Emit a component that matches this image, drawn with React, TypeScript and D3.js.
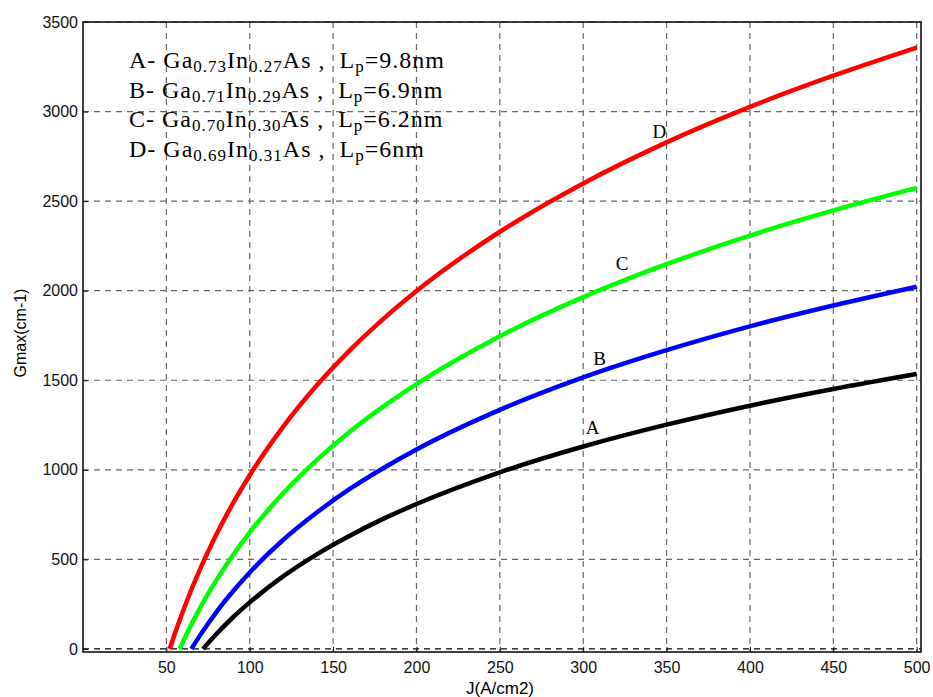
import React, { useEffect, useRef } from "react";
import * as d3 from "d3";

// values
const jA = [72, 80, 90, 100, 120, 140, 160, 180, 200, 250, 300, 350, 400, 450, 500];
const gA = [0, 83, 177, 260, 405, 527, 632, 726, 809, 986, 1130, 1252, 1358, 1451, 1535];

const jB = [65, 70, 80, 90, 100, 120, 140, 160, 180, 200, 250, 300, 350, 400, 450, 500];
const gB = [0, 73, 206, 322, 427, 608, 760, 893, 1009, 1114, 1335, 1516, 1668, 1801, 1917, 2022];

const jC = [58, 60, 70, 80, 90, 100, 120, 140, 160, 180, 200, 250, 300, 350, 400, 450, 500];
const gC = [0, 41, 225, 384, 525, 651, 869, 1053, 1213, 1353, 1479, 1746, 1964, 2148, 2308, 2448, 2574];

const jD = [52, 55, 60, 70, 80, 90, 100, 120, 140, 160, 180, 200, 250, 300, 350, 400, 450, 500];
const gD = [0, 83, 212, 441, 639, 814, 970, 1240, 1469, 1667, 1841, 1998, 2329, 2599, 2828, 3026, 3200, 3357];

const xTicks = [50, 100, 150, 200, 250, 300, 350, 400, 450, 500];
const yTicks = [0, 500, 1000, 1500, 2000, 2500, 3000, 3500];

const curveNames = ["A", "B", "C", "D"];
const curveColors = ["#000000", "#0000ff", "#00ff00", "#ff0000"];
// where the letters sit next to the curves (J, G)
const labelJ = [301.5, 306, 319.5, 341.5];
const labelG = [1200, 1586, 2116, 2853];

const legendRows = [
  { name: "A", ga: "0.73", inn: "0.27", lp: "9.8nm" },
  { name: "B", ga: "0.71", inn: "0.29", lp: "6.9nm" },
  { name: "C", ga: "0.70", inn: "0.30", lp: "6.2nm" },
  { name: "D", ga: "0.69", inn: "0.31", lp: "6nm" },
];

export default function App() {
  const ref = useRef<SVGSVGElement>(null);

  useEffect(() => {
    const svg = d3.select(ref.current);
    svg.selectAll("*").remove();

    const left = 83, right = 921, top = 22, bottom = 652;
    const x = d3.scaleLinear().domain([0, 502.6]).range([left, right]);
    const y = d3.scaleLinear().domain([-17, 3500]).range([bottom, top]);

    const sans = "'Liberation Sans', Arial, sans-serif";
    const serif = "'Liberation Serif', 'Times New Roman', serif";

    // grid
    const grid = svg.append("g");
    grid.selectAll(".vg").data(xTicks).join("line")
      .attr("x1", d => x(d)).attr("x2", d => x(d))
      .attr("y1", top).attr("y2", bottom)
      .attr("stroke", "#666").attr("stroke-width", 1.2)
      .attr("stroke-dasharray", "6,5");
    grid.selectAll(".hg").data(yTicks).join("line")
      .attr("x1", left).attr("x2", right)
      .attr("y1", d => y(d)).attr("y2", d => y(d))
      .attr("stroke", d => (d === 0 ? "#000" : "#666")).attr("stroke-width", 1.2)
      .attr("stroke-dasharray", "6,5");

    // curves
    const line = d3.line<[number, number]>()
      .x(d => x(d[0])).y(d => y(d[1]))
      .curve(d3.curveMonotoneX);
    const series = [
      d3.zip(jA, gA), d3.zip(jB, gB), d3.zip(jC, gC), d3.zip(jD, gD),
    ] as [number, number][][];
    svg.append("g").selectAll("path").data(series).join("path")
      .attr("d", d => line(d))
      .attr("fill", "none")
      .attr("stroke", (d, i) => curveColors[i])
      .attr("stroke-width", 4.5)
      .attr("stroke-linejoin", "round");

    // curve letters
    svg.append("g").selectAll("text").data(curveNames).join("text")
      .attr("x", (d, i) => x(labelJ[i]))
      .attr("y", (d, i) => y(labelG[i]))
      .attr("font-family", serif).attr("font-size", 19)
      .text(d => d);

    // axes box
    svg.append("rect")
      .attr("x", left).attr("y", top)
      .attr("width", right - left).attr("height", bottom - top)
      .attr("fill", "none").attr("stroke", "#111").attr("stroke-width", 1.6);

    const fmt = d3.format("d");
    const xAxis = svg.append("g").attr("transform", `translate(0,${bottom})`)
      .call(d3.axisBottom(x).tickValues(xTicks).tickFormat(fmt).tickSizeInner(-5).tickSizeOuter(0).tickPadding(10));
    const yAxis = svg.append("g").attr("transform", `translate(${left},0)`)
      .call(d3.axisLeft(y).tickValues(yTicks).tickFormat(fmt).tickSizeInner(-5).tickSizeOuter(0).tickPadding(5));
    [xAxis, yAxis].forEach(a => {
      a.select(".domain").remove();
      a.selectAll("line").attr("stroke", "#111");
      a.selectAll("text").attr("font-family", sans).attr("font-size", 16).attr("fill", "#111");
    });

    // axis labels
    svg.append("text")
      .attr("x", 500).attr("y", 694)
      .attr("text-anchor", "middle")
      .attr("font-family", sans).attr("font-size", 17)
      .text("J(A/cm2)");
    svg.append("text")
      .attr("transform", `translate(26,333) rotate(-90)`)
      .attr("text-anchor", "middle")
      .attr("font-family", sans).attr("font-size", 16)
      .text("Gmax(cm-1)");

    // legend text block
    const legend = svg.append("g").attr("font-family", serif).attr("font-size", 24)
      .attr("letter-spacing", 1)
      .style("white-space", "pre");
    legendRows.forEach((r, i) => {
      const t = legend.append("text").attr("x", 129).attr("y", 68 + i * 29.7)
        .attr("xml:space", "preserve");
      t.append("tspan").text(`${r.name}- Ga`);
      t.append("tspan").attr("font-size", 17).attr("dy", 4).text(r.ga);
      t.append("tspan").attr("dy", -4).text("In");
      t.append("tspan").attr("font-size", 17).attr("dy", 4).text(r.inn);
      t.append("tspan").attr("dy", -4).text("As ,  L");
      t.append("tspan").attr("font-size", 17).attr("dy", 4).text("p");
      t.append("tspan").attr("dy", -4).text(`=${r.lp}`);
    });
  }, []);

  return (
    <svg ref={ref} width={933} height={697}
      style={{ position: "absolute", left: 0, top: 0, background: "#fff" }} />
  );
}
